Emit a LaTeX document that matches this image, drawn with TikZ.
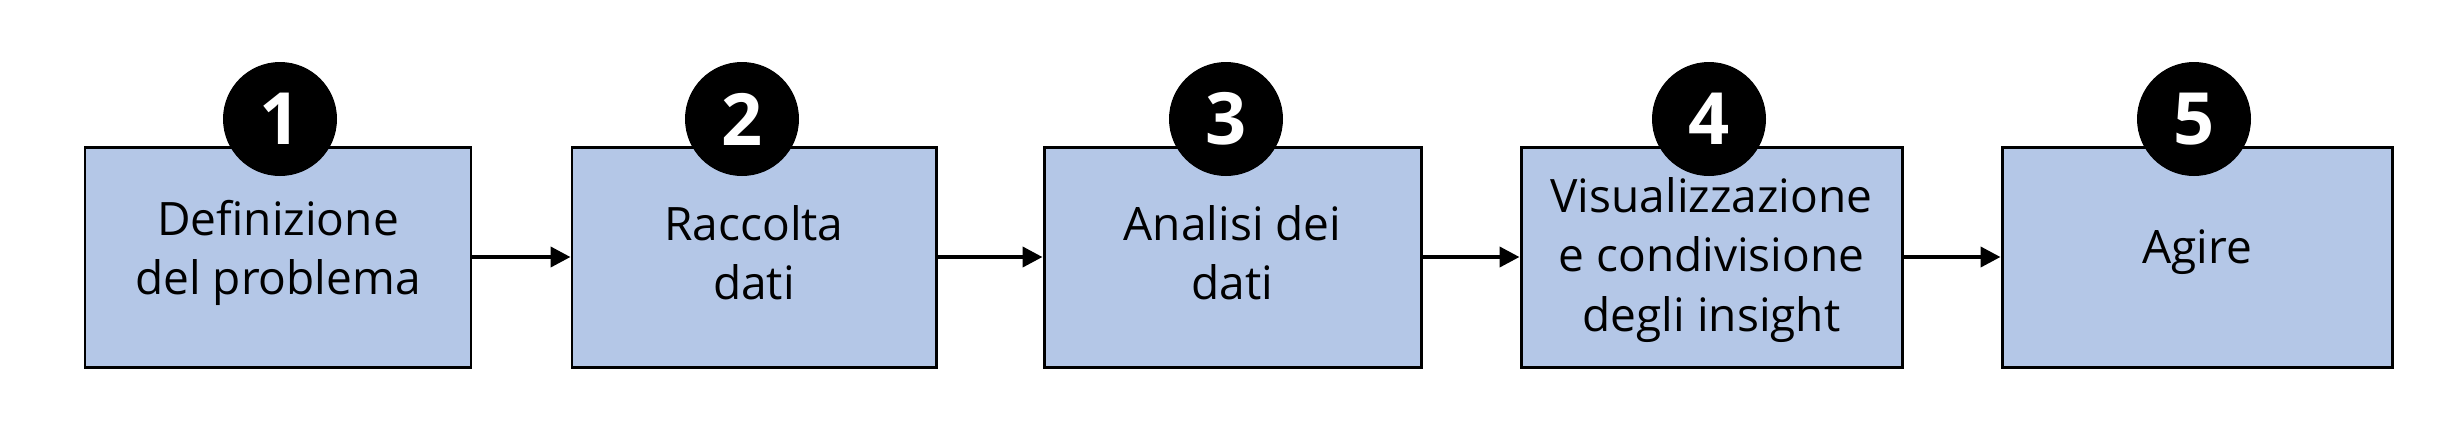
\documentclass[tikz,border=0pt]{standalone}
\usepackage{fontspec}
\setmainfont{Open Sans}
\usetikzlibrary{arrows.meta}
\definecolor{boxfill}{HTML}{B4C7E7}
\tikzset{
  stepbox/.style={draw=black, line width=0.85pt, fill=boxfill, minimum height=2.2cm, inner sep=0pt},
  stepnum/.style={circle, fill=black, minimum size=1.14cm, inner sep=0pt, text=white, font=\bfseries\fontsize{20.5}{24}\selectfont},
  steptext/.style={align=center, font=\fontsize{13.1}{16.9}\selectfont},
  flow/.style={line width=1.15pt, -{Triangle[length=0.2cm, width=0.2cm]}}
}
\begin{document}
\begin{tikzpicture}
\useasboundingbox (0,0) rectangle (24.41,4.32);
\node[stepbox, minimum width=3.86cm] (b1) at (2.78,1.75) {};
\node[stepbox, minimum width=3.64cm] (b2) at (7.54,1.75) {};
\node[stepbox, minimum width=3.77cm] (b3) at (12.325,1.75) {};
\node[stepbox, minimum width=3.81cm] (b4) at (17.115,1.75) {};
\node[stepbox, minimum width=3.90cm] (b5) at (21.97,1.75) {};
\node[steptext] (t1) at (2.78,1.79) {Definizione\\del problema};
\node[steptext] (t2) at (7.54,1.79) {Raccolta\\dati};
\node[steptext] (t3) at (12.325,1.79) {Analisi dei\\dati};
\node[steptext] (t4) at (17.115,1.72) {Visualizzazione\\e condivisione\\degli insight};
\node[steptext] (t5) at (21.97,1.80) {Agire};
\node[stepnum] (n1) at (2.80,3.13) {1};
\node[stepnum] (n2) at (7.42,3.13) {2};
\node[stepnum] (n3) at (12.26,3.13) {3};
\node[stepnum] (n4) at (17.09,3.13) {4};
\node[stepnum] (n5) at (21.94,3.13) {5};
\draw[flow] (b1.east) -- (b2.west);
\draw[flow] (b2.east) -- (b3.west);
\draw[flow] (b3.east) -- (b4.west);
\draw[flow] (b4.east) -- (b5.west);
\end{tikzpicture}
\end{document}
